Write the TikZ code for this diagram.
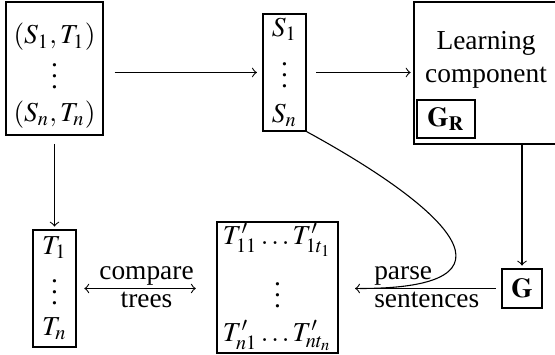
\documentclass[tikz,border=0pt]{standalone}
\usepackage{mathptmx}
\usepackage{fontspec}
\setmainfont{Liberation Serif}
\newfontfamily\tnr{Liberation Serif}
\newlength\px
\setlength\px{0.365pt}
\begin{document}
\begin{tikzpicture}[x=0.365pt,y=-0.365pt,
  font=\tnr,
  box/.style={draw, line width=0.45pt, inner sep=0pt, align=center},
  arr/.style={->, line width=0.4pt},
  lbl/.style={inner sep=1pt, align=center}]
\useasboundingbox (0,0) rectangle (555,355);
\clip (0,0) rectangle (555,355);

% training pairs and the sentences
\node[box, minimum width=97\px, minimum height=133\px] (A) at (54.5,68.5)
  {\rule{0pt}{13pt}$(S_1,T_1)$\\[-2.3pt]$\vdots$\\[0.2pt]$(S_n,T_n)$};
\node[box, minimum width=43\px, minimum height=117\px] (B) at (284.5,72.5)
  {$S_1$\\[1pt]$\vdots$\\[1pt]$S_n$};

% learning component with its grammar
\node[box, minimum width=144\px, minimum height=142\px] (C) at (486,73) {};
\node[lbl] (Ct) at (486,60) {Learning\\component};
\node[box, minimum width=58\px, minimum height=38\px] (GR) at (446,119) {$\mathbf{G_R}$};

% bottom row
\node[box, minimum width=43\px, minimum height=117\px] (T) at (54.5,288.5)
  {$T_1$\\[0.5pt]$\vdots$\\[-0.5pt]$T_n$};
\node[box, minimum width=121\px, minimum height=131\px] (P) at (277.5,287.5)
  {$T'_{11}\ldots T'_{1t_1}$\\[2.5pt]$\vdots$\\[0.2pt]$T'_{n1}\ldots T'_{nt_n}$};
\node[box, minimum width=40\px, minimum height=39\px] (G) at (522,288.5) {$\mathbf{G}$};

% connectors
\draw[arr, shorten <=4pt, shorten >=2pt] (A.east |- B.west) -- (B.west);
\draw[arr, shorten <=3.5pt, shorten >=1pt] (B.east) -- (B.east -| C.west);
\draw[arr, shorten <=3pt, shorten >=1pt] (A.south) -- (T.north);
\draw[arr, shorten >=1pt] (G.north |- C.south) -- (G.north);
\draw[arr, shorten <=2pt, shorten >=6pt] (G.west) -- (G.west -| P.east);
\draw[<->, line width=0.4pt, shorten <=2.8pt, shorten >=7.5pt] (T.east |- G.west) -- (T.east |- G.west -| P.west)
  node[midway, lbl, above] (cmp) {compare}
  node[midway, lbl, below] (trs) {trees};
\coordinate (m) at (360,288.5);
\draw[line width=0.4pt] (B.south east) .. controls (450,210) and (530,288.5) .. (m);
\node[lbl, anchor=south west] (ps) at (371,288.5) {parse};
\node[lbl, anchor=north west] (sn) at (371,288.5) {sentences};
\end{tikzpicture}
\end{document}
